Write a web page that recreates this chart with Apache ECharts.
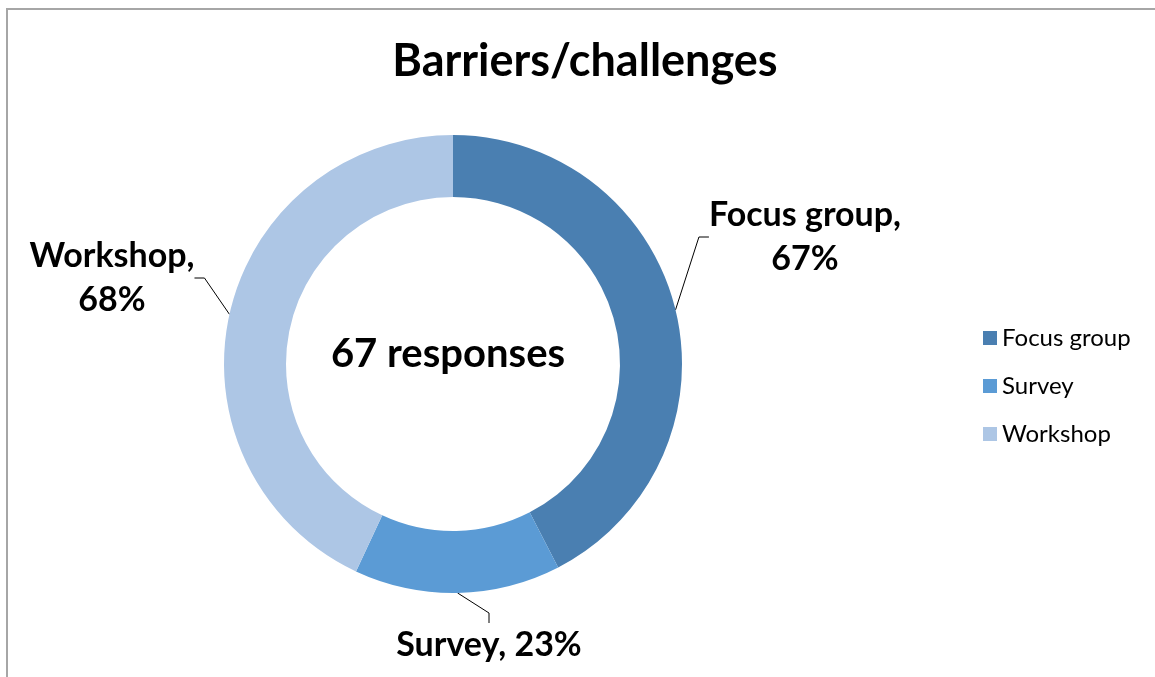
<!doctype html>
<html lang="en">
<head>
    <meta charset="UTF-8">
    <title>Barriers/challenges</title>
    <style>
        html, body { margin: 0; padding: 0; background: #fff; }
        #main { width: 1155px; height: 677px; }
    </style>
</head>
<body>
<div id="main"></div>
<script type="text/javascript" src="https://cdn.jsdelivr.net/npm/echarts@6/dist/echarts.min.js"></script>
<script type="text/javascript">
    // data
    var categories = ['Focus group', 'Survey', 'Workshop'];
    var values = [67, 23, 68];
    var colors = ['#4a7fb1', '#5b9bd5', '#adc6e5'];
    var responses = 67;

    // where each outside label sits (centre of the text)
    var labelPos = [[805, 237], [489, 645], [112, 278]];

    var myChart = echarts.init(document.getElementById('main'));
    var font = 'Lato, "Open Sans", sans-serif';

    var option = {
        animation: false,
        color: colors,
        title: {
            text: 'Barriers/challenges',
            left: 580,
            top: 34,
            textAlign: 'center',
            textStyle: { fontFamily: font, fontSize: 45, fontWeight: 'bold', color: '#000' }
        },
        legend: {
            orient: 'vertical',
            left: 978,
            top: 321,
            itemWidth: 14,
            itemHeight: 14,
            itemGap: 24,
            icon: 'rect',
            textStyle: { fontFamily: font, fontSize: 24, color: '#000' },
            data: categories
        },
        graphic: [
            {
                type: 'rect',
                shape: { x: 7, y: 9, width: 1300, height: 900 },
                style: { fill: 'none', stroke: '#a6a6a6', lineWidth: 2 },
                silent: true
            },
            {
                type: 'text',
                x: 448,
                y: 354,
                style: {
                    text: responses + ' responses',
                    align: 'center',
                    verticalAlign: 'middle',
                    font: 'bold 40px ' + font,
                    fill: '#000'
                },
                silent: true
            }
        ],
        series: [{
            type: 'pie',
            center: [453, 364],
            radius: [167, 229],
            startAngle: 90,
            clockwise: true,
            avoidLabelOverlap: false,
            label: {
                show: true,
                fontFamily: font,
                fontSize: 34,
                fontWeight: 'bold',
                color: '#000',
                lineHeight: 44,
                align: 'center',
                formatter: function (p) {
                    return p.dataIndex === 1 ? p.name + ', ' + p.value + '%' : p.name + ',\n' + p.value + '%';
                }
            },
            labelLine: {
                show: true,
                length: 20,
                length2: 10,
                lineStyle: { color: '#000', width: 1 }
            },
            labelLayout: function (p) {
                var pos = labelPos[p.dataIndex];
                return { x: pos[0], y: pos[1], align: 'center', verticalAlign: 'middle' };
            },
            data: categories.map(function (c, i) {
                return { name: c, value: values[i] };
            })
        }]
    };
    myChart.setOption(option);
</script>
</body>
</html>
